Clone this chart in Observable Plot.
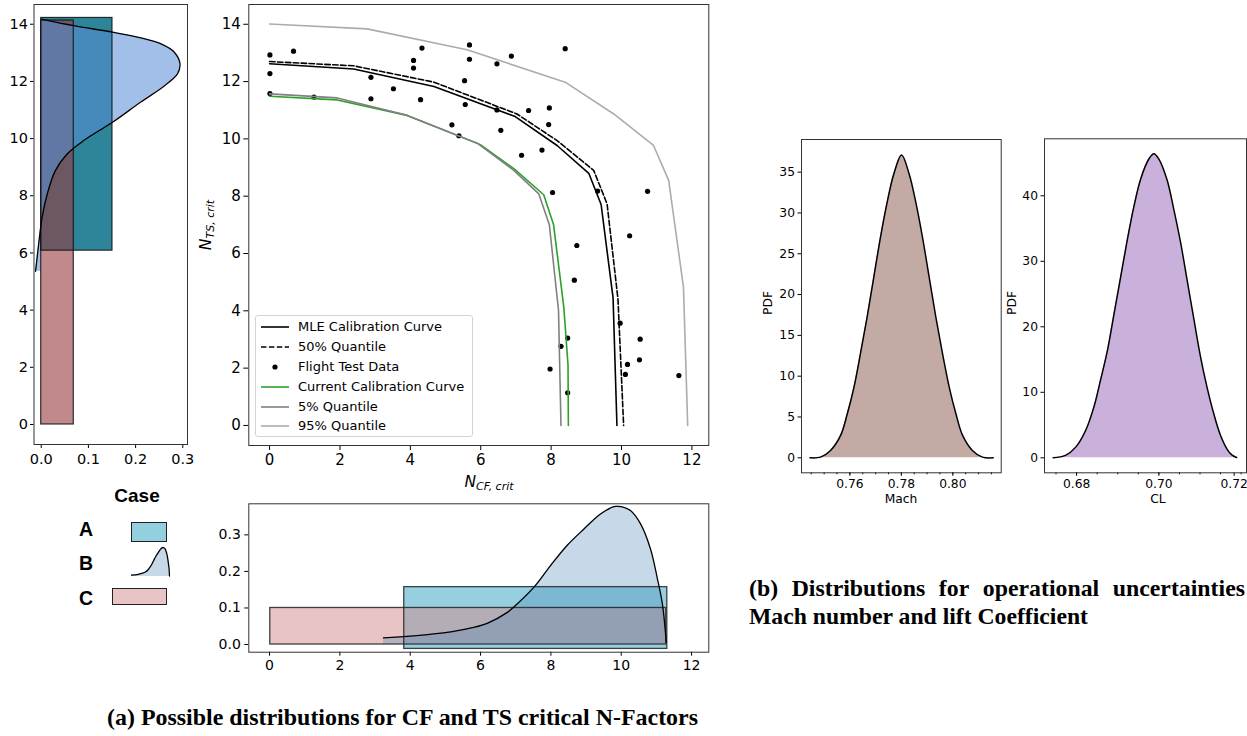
<!DOCTYPE html>
<html>
<head>
<meta charset="utf-8">
<script src="https://cdn.jsdelivr.net/npm/d3@7"></script>
<script src="https://cdn.jsdelivr.net/npm/@observablehq/plot@0.6"></script>
<style>
  body { margin: 0; background: #fff; }
  #fig { position: relative; width: 1247px; height: 736px; overflow: hidden; font-family: "DejaVu Sans", sans-serif; color: #000; }
  .abs { position: absolute; white-space: nowrap; }
  .math { font-family: "DejaVu Sans", sans-serif; font-size: 15.5px; }
  .math i { font-style: oblique; }
  .math sub { font-size: 11px; font-style: oblique; vertical-align: -3px; }
  .caption { font-family: "Liberation Serif", "Times New Roman", serif; font-weight: bold; font-size: 23.8px; line-height: 28px; }
  #legend { position: absolute; left: 255px; top: 315px; width: 218px; height: 122px; box-sizing: border-box;
            border: 1px solid #d4d4d4; border-radius: 3px; background: rgba(255,255,255,0.85); font-size: 13px; }
  #legend .row { position: absolute; left: 0; width: 214px; height: 20px; line-height: 20px; white-space: nowrap; }
  #legend svg { position: absolute; left: 4px; top: 0; }
  #legend span { position: absolute; left: 42px; top: 0; white-space: nowrap; }
  .case { font-family: "Liberation Sans", Arial, sans-serif; font-weight: bold; }
</style>
</head>
<body>
<div id="fig"></div>
<script>
// ---------------- data ----------------
// Calibration curves: critical cross-flow N-factor vs critical TS N-factor
const mleCF     = [0, 2.39, 4.67, 6.98, 8.17, 9.07, 9.42, 9.76, 9.87];
const mleTS     = [12.62, 12.44, 11.83, 10.78, 9.77, 8.80, 7.71, 4.45, 0];
const q50CF     = [0, 2.39, 4.67, 7.03, 8.17, 9.21, 9.59, 9.90, 10.06];
const q50TS     = [12.70, 12.55, 11.98, 10.87, 9.94, 8.90, 7.73, 4.40, 0];
const currentCF = [0, 1.92, 3.91, 5.99, 6.94, 7.79, 8.07, 8.36, 8.48, 8.49];
const currentTS = [11.49, 11.36, 10.82, 9.80, 8.96, 8.05, 7.00, 4.13, 2.10, 0];
const q05CF     = [0, 1.92, 3.91, 5.90, 6.94, 7.65, 7.95, 8.21, 8.28];
const q05TS     = [11.57, 11.43, 10.82, 9.85, 8.90, 8.08, 7.00, 4.01, 0];
const q95CF     = [0, 2.77, 5.61, 8.40, 9.78, 10.91, 11.34, 11.76, 11.88];
const q95TS     = [14.01, 13.84, 13.11, 11.98, 10.87, 9.77, 8.55, 4.83, 0];

// Flight test transition points
const flightCF = [0.01, 0.68, 0.01, 0.01, 1.26, 2.88, 2.88, 3.52, 4.09, 4.09, 4.33, 4.29, 5.18, 5.38, 5.54,
                  5.68, 5.68, 5.56, 6.46, 6.46, 6.57, 6.87, 7.16, 7.36, 7.74, 7.93, 7.95, 8.04, 8.40, 9.32,
                  10.74, 10.23, 8.73, 8.66, 9.96, 8.47, 8.28, 7.97, 8.47, 10.53, 10.51, 10.17, 10.11, 11.63];
const flightTS = [12.93, 13.06, 12.28, 11.58, 11.46, 12.15, 11.40, 11.75, 12.74, 12.47, 13.17, 11.37, 10.49, 10.11, 12.03,
                  13.28, 12.78, 11.20, 12.62, 11.01, 10.30, 12.89, 9.43, 10.99, 9.61, 10.50, 11.08, 8.13, 13.15, 8.18,
                  8.17, 6.62, 6.28, 5.07, 3.57, 3.05, 2.76, 1.97, 1.14, 3.01, 2.29, 2.13, 1.78, 1.74];

// Case B: skewed density of N_TS,crit (left marginal)
const caseB_TS_n   = [5.36, 6.08, 7.25, 8.07, 8.88, 9.46, 9.93, 10.57, 11.28, 11.83, 12.27, 12.62, 13.02, 13.31, 13.52, 13.72, 13.95, 14.18];
const caseB_TS_pdf = [-0.012, -0.007, 0.002, 0.013, 0.030, 0.055, 0.090, 0.151, 0.211, 0.260, 0.289, 0.294, 0.282, 0.254, 0.211, 0.151, 0.069, 0.0];

// Case B: skewed density of N_CF,crit (bottom marginal)
const caseB_CF_n   = [3.24, 4.67, 5.62, 6.19, 6.76, 7.04, 7.52, 7.99, 8.46, 8.94, 9.41, 9.79, 9.87, 10.00, 10.27, 10.55, 10.83, 11.02, 11.17, 11.28];
const caseB_CF_pdf = [0.018, 0.029, 0.043, 0.058, 0.088, 0.111, 0.157, 0.216, 0.271, 0.316, 0.357, 0.377, 0.378, 0.377, 0.366, 0.330, 0.262, 0.184, 0.111, 0.006];

// Cases A and C: uniform densities
const uniformTS = [
  {caseId: "A", from: 6.08, to: 14.22, pdf: 0.151},
  {caseId: "C", from: 0.0,  to: 14.13, pdf: 0.069}
];
const uniformCF = [
  {caseId: "A", from: 3.83, to: 11.31, base: -0.012, pdf: 0.157},
  {caseId: "C", from: 0.02, to: 11.28, base: 0.0,    pdf: 0.100}
];

// Operational uncertainties
const machX   = [0.7445, 0.7486, 0.7525, 0.7564, 0.7590, 0.7616, 0.7641, 0.7667, 0.7693, 0.7719, 0.7745, 0.7771, 0.7801,
                 0.7830, 0.7856, 0.7882, 0.7908, 0.7934, 0.7960, 0.7986, 0.8012, 0.8038, 0.8076, 0.8115, 0.8157];
const machPdf = [0, 0.08, 0.9, 2.74, 5.39, 8.66, 12.75, 17.24, 22.14, 27.04, 31.33, 34.80, 37.10,
                 34.80, 31.33, 27.04, 22.14, 17.24, 12.75, 8.66, 5.39, 2.74, 0.9, 0.08, 0];
const clX     = [0.6743, 0.6773, 0.6798, 0.6822, 0.6842, 0.6858, 0.6875, 0.6891, 0.6907, 0.6923, 0.6939, 0.6956, 0.6976, 0.6988,
                 0.7000, 0.7020, 0.7036, 0.7053, 0.7069, 0.7085, 0.7101, 0.7117, 0.7134, 0.7150, 0.7166, 0.7178, 0.7189];
const clPdf   = [0, 0.36, 1.63, 4.17, 7.74, 11.81, 16.39, 21.98, 27.58, 33.18, 38.27, 42.60, 45.65, 46.41,
                 45.6, 42.4, 38.0, 32.8, 27.0, 21.2, 15.5, 10.8, 6.6, 3.4, 1.3, 0.4, 0.05];

const mainTicksX = [0, 2, 4, 6, 8, 10, 12];
const mainTicksY = [0, 2, 4, 6, 8, 10, 12, 14];

// ---------------- helpers ----------------
const fig = document.getElementById("fig");
const pairs = (xs, ys) => xs.map((x, i) => ({x, y: ys[i]}));
const zero = () => 0;
const smooth = "catmull-rom";

function mount(node, left, top) {
  node.style.position = "absolute";
  node.style.left = left + "px";
  node.style.top = top + "px";
  node.style.maxWidth = "none";
  fig.appendChild(node);
  return node;
}
function html(tag, cls, text, css) {
  const el = document.createElement(tag);
  if (cls) el.className = cls;
  if (text != null) el.innerHTML = text;
  Object.assign(el.style, css || {});
  fig.appendChild(el);
  return el;
}
const frame = () => Plot.frame({stroke: "#333", strokeWidth: 1});
const baseStyle = size => ({fontSize: size, fontFamily: "DejaVu Sans", background: "transparent", color: "#000", overflow: "visible"});

// ---------------- main panel: calibration curves ----------------
const mle = pairs(mleCF, mleTS), q50 = pairs(q50CF, q50TS), cur = pairs(currentCF, currentTS);
const q05 = pairs(q05CF, q05TS), q95 = pairs(q95CF, q95TS), flight = pairs(flightCF, flightTS);

mount(Plot.plot({
  width: 530, height: 475,
  marginLeft: 58.3, marginRight: 11.7, marginTop: 4, marginBottom: 30,
  x: {domain: [-0.59, 12.48]},
  y: {domain: [-0.70, 14.69]},
  style: baseStyle("15px"),
  marks: [
    Plot.line(mle, {x: "x", y: "y", stroke: "#000", strokeWidth: 1.6}),
    Plot.line(q50, {x: "x", y: "y", stroke: "#000", strokeWidth: 1.6, strokeDasharray: "5.5,2.4"}),
    Plot.dot(flight, {x: "x", y: "y", r: 2.6, fill: "#000", stroke: null}),
    Plot.line(cur, {x: "x", y: "y", stroke: "#2ca02c", strokeWidth: 1.6}),
    Plot.line(q05, {x: "x", y: "y", stroke: "#808080", strokeWidth: 1.6}),
    Plot.line(q95, {x: "x", y: "y", stroke: "#acacac", strokeWidth: 1.6}),
    Plot.axisX({ticks: mainTicksX, tickSize: 5, tickPadding: 4, label: null}),
    Plot.axisY({ticks: mainTicksY, tickSize: 5, tickPadding: 3, label: null}),
    frame()
  ]
}), 190, 0);

// legend for the calibration curves
const legendItems = [
  {label: "MLE Calibration Curve", stroke: "#000"},
  {label: "50% Quantile", stroke: "#000", dash: "5.5,2.4"},
  {label: "Flight Test Data", dot: true},
  {label: "Current Calibration Curve", stroke: "#2ca02c"},
  {label: "5% Quantile", stroke: "#808080"},
  {label: "95% Quantile", stroke: "#acacac"}
];
const legend = document.createElement("div");
legend.id = "legend";
legendItems.forEach((item, i) => {
  const row = document.createElement("div");
  row.className = "row";
  row.style.top = (1.3 + i * 19.8) + "px";
  const sw = item.dot
    ? `<svg width="30" height="20"><circle cx="15" cy="10" r="2.6" fill="#000"/></svg>`
    : `<svg width="30" height="20"><line x1="1" x2="29" y1="10" y2="10" stroke="${item.stroke}" stroke-width="1.6" ${item.dash ? `stroke-dasharray="${item.dash}"` : ""}/></svg>`;
  row.innerHTML = sw + `<span>${item.label}</span>`;
  legend.appendChild(row);
});
fig.appendChild(legend);

// axis titles of the main panel
html("div", "abs math", "<i>N</i><sub>CF, crit</sub>", {left: "489px", top: "483px", transform: "translate(-50%,-50%)"});
html("div", "abs math", "<i>N</i><sub>TS, crit</sub>", {left: "207px", top: "225px", transform: "translate(-50%,-50%) rotate(-90deg)"});

// ---------------- left panel: TS marginal ----------------
const tsCurve = pairs(caseB_TS_pdf, caseB_TS_n);
mount(Plot.plot({
  width: 200, height: 470,
  marginLeft: 33.5, marginRight: 13, marginTop: 4, marginBottom: 26,
  x: {domain: [-0.0153, 0.31]},
  y: {domain: [-0.70, 14.69]},
  style: baseStyle("14.5px"),
  marks: [
    Plot.rect(uniformTS.filter(d => d.caseId === "A"), {x1: zero, x2: "pdf", y1: "from", y2: "to", fill: "#2e8599"}),
    Plot.rect(uniformTS.filter(d => d.caseId === "C"), {x1: zero, x2: "pdf", y1: "from", y2: "to", fill: "#963a3e", fillOpacity: 0.6}),
    Plot.areaX(tsCurve, {y: "y", x1: zero, x2: "x", fill: "#5a8fd6", fillOpacity: 0.57, curve: smooth}),
    Plot.rect(uniformTS, {x1: zero, x2: "pdf", y1: "from", y2: "to", fill: "none", stroke: "#111", strokeWidth: 1.2, strokeOpacity: 0.85}),
    Plot.line(tsCurve, {x: "x", y: "y", stroke: "#000", strokeWidth: 1.3, curve: smooth}),
    Plot.axisX({ticks: [0, 0.1, 0.2, 0.3], tickFormat: d3.format(".1f"), tickSize: 4, tickPadding: 5, label: null}),
    Plot.axisY({ticks: mainTicksY, tickSize: 3.5, tickPadding: 2.5, label: null}),
    frame()
  ]
}), 0, 0);

// ---------------- bottom panel: CF marginal ----------------
const cfCurve = pairs(caseB_CF_n, caseB_CF_pdf);
mount(Plot.plot({
  width: 530, height: 190,
  marginLeft: 58.3, marginRight: 11.7, marginTop: 13.3, marginBottom: 28.3,
  x: {domain: [-0.59, 12.49]},
  y: {domain: [-0.021, 0.385]},
  style: baseStyle("14px"),
  marks: [
    Plot.rect(uniformCF.filter(d => d.caseId === "A"), {x1: "from", x2: "to", y1: "base", y2: "pdf", fill: "#5fb8d0", fillOpacity: 0.66}),
    Plot.rect(uniformCF.filter(d => d.caseId === "C"), {x1: "from", x2: "to", y1: "base", y2: "pdf", fill: "#d18989", fillOpacity: 0.5}),
    Plot.areaY(cfCurve, {x: "x", y1: zero, y2: "y", fill: "steelblue", fillOpacity: 0.3, curve: smooth}),
    Plot.rect(uniformCF, {x1: "from", x2: "to", y1: "base", y2: "pdf", fill: "none", stroke: "#222", strokeWidth: 1.3, strokeOpacity: 0.85}),
    Plot.line(cfCurve, {x: "x", y: "y", stroke: "#000", strokeWidth: 1.3, curve: smooth}),
    Plot.axisX({ticks: mainTicksX, tickSize: 4, tickPadding: 4, label: null}),
    Plot.axisY({ticks: [0, 0.1, 0.2, 0.3], tickFormat: d3.format(".1f"), tickSize: 4, tickPadding: 4, label: null}),
    frame()
  ]
}), 190, 490);

// ---------------- case key ----------------
html("div", "abs case", "Case", {left: "137px", top: "496px", fontSize: "19px", transform: "translate(-50%,-50%)"});
["A", "B", "C"].forEach((c, i) => {
  html("div", "abs case", c, {left: "86px", top: [529, 563, 598][i] + "px", fontSize: "19.5px", transform: "translate(-50%,-50%)"});
});
html("div", "abs", null, {left: "131px", top: "522px", width: "36px", height: "20px", boxSizing: "border-box",
  background: "#92cfdf", border: "1.3px solid #222"});
html("div", "abs", null, {left: "112px", top: "588px", width: "55px", height: "17px", boxSizing: "border-box",
  background: "#e8c4c4", border: "1.3px solid #222"});
mount(Plot.plot({
  width: 40, height: 31, margin: 1,
  x: {domain: [3.24, 11.28], axis: null},
  y: {domain: [0, 0.378], axis: null},
  style: {background: "transparent", overflow: "visible"},
  marks: [
    Plot.areaY(cfCurve, {x: "x", y1: zero, y2: "y", fill: "steelblue", fillOpacity: 0.3, curve: smooth}),
    Plot.line(cfCurve, {x: "x", y: "y", stroke: "#000", strokeWidth: 1.3, curve: smooth})
  ]
}), 130, 546);

// ---------------- right panels: Mach and CL densities ----------------
function densityPanel({xs, ys, xDomain, yDomain, major, lastShift, minor, yTicks, fill, width, mLeft, mRight, mTop}) {
  const data = pairs(xs, ys);
  const head = major.slice(0, -1), last = major.slice(-1);
  return Plot.plot({
    width, height: 400,
    marginLeft: mLeft, marginRight: mRight, marginTop: mTop, marginBottom: 47.7,
    x: {domain: xDomain},
    y: {domain: yDomain},
    style: baseStyle("12.3px"),
    marks: [
      Plot.areaY(data, {x: "x", y: "y", fill, curve: smooth}),
      Plot.line(data, {x: "x", y: "y", stroke: "#000", strokeWidth: 1.5, curve: smooth}),
      Plot.axisX({ticks: minor, tickSize: 2, tickFormat: () => "", label: null}),
      Plot.axisX({ticks: head, tickFormat: d3.format(".2f"), tickSize: 3.5, tickPadding: 3, label: null}),
      Plot.axisX({ticks: last, tickFormat: d3.format(".2f"), tickSize: 3.5, tickPadding: 3, label: null, dx: lastShift}),
      Plot.axisY({ticks: yTicks, tickSize: 3.5, tickPadding: 3, label: null}),
      frame()
    ]
  });
}
mount(densityPanel({
  xs: machX, ys: machPdf, xDomain: [0.7412, 0.8188], yDomain: [-1.84, 39.0],
  major: [0.76, 0.78, 0.80], lastShift: 0,
  minor: d3.range(0.745, 0.8151, 0.005).map(v => +v.toFixed(3)),
  yTicks: [0, 5, 10, 15, 20, 25, 30, 35], fill: "#c4aaa4",
  width: 270, mLeft: 61, mRight: 9.3, mTop: 19
}), 740, 120);
mount(densityPanel({
  xs: clX, ys: clPdf, xDomain: [0.6722, 0.7213], yDomain: [-2.29, 48.7],
  major: [0.68, 0.70, 0.72], lastShift: -7,
  minor: d3.range(0.675, 0.7201, 0.005).map(v => +v.toFixed(3)),
  yTicks: [0, 10, 20, 30, 40], fill: "#c9b1dc",
  width: 237, mLeft: 34, mRight: 1, mTop: 18.3
}), 1010, 120);

const small = {fontSize: "12.3px"};
html("div", "abs", "PDF", {...small, left: "768px", top: "303px", transform: "translate(-50%,-50%) rotate(-90deg)"});
html("div", "abs", "Mach", {...small, left: "901px", top: "499px", transform: "translate(-50%,-50%)"});
html("div", "abs", "PDF", {...small, left: "1012px", top: "303px", transform: "translate(-50%,-50%) rotate(-90deg)"});
html("div", "abs", "CL", {...small, left: "1158px", top: "499px", transform: "translate(-50%,-50%)"});

// ---------------- captions ----------------
function fitWidth(el, target) {
  const w = el.getBoundingClientRect().width;
  el.style.transformOrigin = "left center";
  el.style.transform = `scaleX(${target / w})`;
}
const capA = html("div", "abs caption", "(a) Possible distributions for CF and TS critical N-Factors", {left: "107px", top: "703px"});
fitWidth(capA, 591);

const capB1 = html("div", "abs caption", null, {left: "749px", top: "574px", width: "496px", display: "flex", justifyContent: "space-between"});
"(b) Distributions for operational uncertainties".split(" ").forEach(w => {
  const s = document.createElement("span");
  s.textContent = w;
  capB1.appendChild(s);
});
const capB2 = html("div", "abs caption", "Mach number and lift Coefficient", {left: "749px", top: "602px"});
fitWidth(capB2, 339);
</script>
</body>
</html>
